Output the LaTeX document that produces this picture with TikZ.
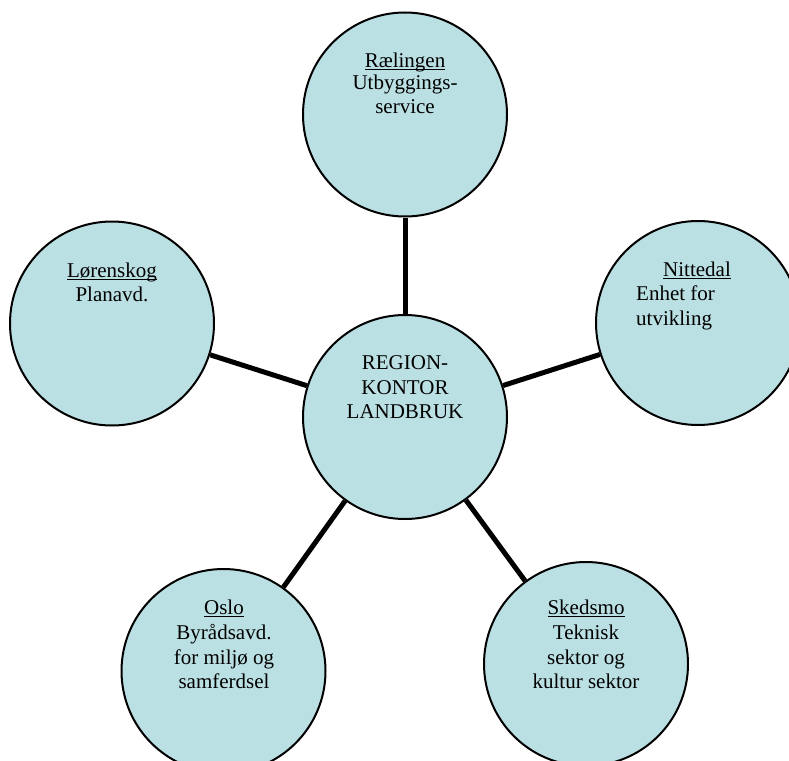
\documentclass[tikz,border=0pt]{standalone}
\usepackage{fontspec}
\setmainfont{Liberation Serif}
\definecolor{bub}{HTML}{BBE0E3}
\newcommand\ulword[1]{\setbox0=\hbox{#1}\rlap{\rule[-2.6pt]{\wd0}{1.1pt}}\box0}
\begin{document}
\begin{tikzpicture}[x=1pt,y=-1pt,
  bubble/.style={circle,draw=black,line width=2pt,fill=bub,minimum size=204pt,inner sep=0pt},
  link/.style={line width=5pt},
  lbl/.style={font=\fontsize{21}{24.5}\selectfont,inner sep=0pt,anchor=base},
  lblw/.style={lbl,anchor=base west}]
\useasboundingbox (0,0) rectangle (789,760);
\clip (0,0) rectangle (789,760);
\node[bubble] (top) at (405,114.5) {};
\node[bubble] (left) at (112,323.5) {};
\node[bubble] (right) at (698,323) {};
\node[bubble] (ctr) at (405,417) {};
\node[bubble] (bl) at (223.5,671) {};
\node[bubble] (br) at (586,664) {};
\draw[link] (ctr) -- (top);
\draw[link] (ctr) -- (left);
\draw[link] (ctr) -- (right);
\draw[link] (ctr) -- (bl);
\draw[link] (ctr) -- (br);
% top
\node[lbl] (t1) at (405,67) {\ulword{Rælingen}};
\node[lbl] (t2) at (405,89) {Utbyggings-};
\node[lbl] (t3) at (405,113) {service};
% left
\node[lbl] (l1) at (112,277) {\ulword{Lørenskog}};
\node[lbl] (l2) at (112,301) {Planavd.};
% right
\node[lbl] (r1) at (697,276) {\ulword{Nittedal}};
\node[lblw] (r2) at (636,300) {Enhet for};
\node[lblw] (r3) at (636,325) {utvikling};
% centre
\node[lbl] (c1) at (405,369) {REGION-};
\node[lbl] (c2) at (405,394) {KONTOR};
\node[lbl] (c3) at (405,418) {LANDBRUK};
% bottom left
\node[lbl] (o1) at (224,614) {\ulword{Oslo}};
\node[lbl] (o2) at (224,639) {Byrådsavd.};
\node[lbl] (o3) at (224,664) {for miljø og};
\node[lbl] (o4) at (224,688) {samferdsel};
% bottom right
\node[lbl] (s1) at (586,614) {\ulword{Skedsmo}};
\node[lbl] (s2) at (586,639) {Teknisk};
\node[lbl] (s3) at (586,664) {sektor og};
\node[lbl] (s4) at (586,688) {kultur sektor};
\end{tikzpicture}
\end{document}
